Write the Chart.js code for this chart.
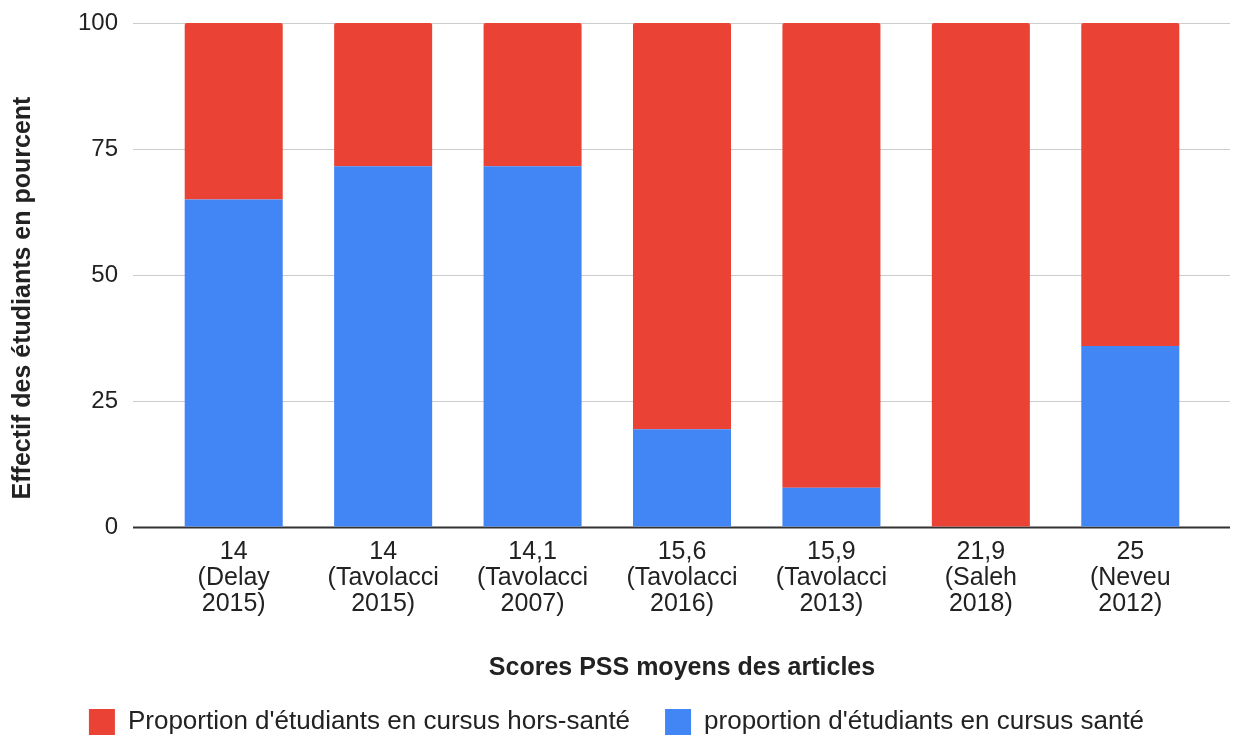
<!DOCTYPE html>
<html>
<head>
<meta charset="utf-8">
<script src="https://cdn.jsdelivr.net/npm/chart.js@4"></script>
<style>
  html, body { margin: 0; padding: 0; background: #fff; }
  #wrap { width: 1234px; height: 738px; }
</style>
</head>
<body>
<div id="wrap"><canvas id="chart" width="1234" height="738"></canvas></div>
<script>
const categories = [
  ['14', '(Delay', '2015)'],
  ['14', '(Tavolacci', '2015)'],
  ['14,1', '(Tavolacci', '2007)'],
  ['15,6', '(Tavolacci', '2016)'],
  ['15,9', '(Tavolacci', '2013)'],
  ['21,9', '(Saleh', '2018)'],
  ['25', '(Neveu', '2012)']
]
const santeValues = [65, 71.6, 71.6, 19.4, 7.8, 0, 35.9]
const horsSanteValues = [35, 28.4, 28.4, 80.6, 92.2, 100, 64.1]
const yTicks = [0, 25, 50, 75, 100]

const RED = '#ea4335'
const BLUE = '#4285f4'
const TEXT = '#222222'
const FONT = 'Liberation Sans, Arial, sans-serif'

// google-style gridlines that run a bit past the bars on both sides
const gridPlugin = {
  id: 'wideGrid',
  afterLayout(chart) {
    // nudge the legend a little to the right, like the original
    chart.legend.left += 28
    // y title sits a bit lower than the plot centre in the original
    chart.scales.y.bottom += 46
  },
  beforeDatasetsDraw(chart) {
    const ctx = chart.ctx
    const y = chart.scales.y
    ctx.save()
    yTicks.forEach(v => {
      const py = Math.round(y.getPixelForValue(v)) + 0.5
      ctx.beginPath()
      ctx.strokeStyle = v === 0 ? '#333333' : '#cccccc'
      ctx.lineWidth = v === 0 ? 2 : 1
      ctx.moveTo(133, py)
      ctx.lineTo(1230, py)
      ctx.stroke()
    })
    ctx.restore()
  }
}

const ctx = document.getElementById('chart').getContext('2d')
const chart = new Chart(ctx, {
  type: 'bar',
  data: {
    labels: categories,
    datasets: [{
      label: "proportion d'étudiants en cursus santé",
      data: santeValues,
      backgroundColor: BLUE,
      borderWidth: 0
    }, {
      label: "Proportion d'étudiants en cursus hors-santé",
      data: horsSanteValues,
      backgroundColor: RED,
      borderWidth: 0,
      borderRadius: 2
    }]
  },
  plugins: [gridPlugin],
  options: {
    responsive: false,
    animation: false,
    layout: { padding: { top: 23, right: 29, left: 0, bottom: -7 } },
    datasets: {
      bar: { barPercentage: 1, categoryPercentage: 0.656 }
    },
    plugins: {
      tooltip: { enabled: false },
      legend: {
        position: 'bottom',
        reverse: true,
        labels: {
          boxWidth: 26,
          boxHeight: 26,
          padding: 35,
          color: TEXT,
          font: { family: FONT, size: 26 }
        }
      }
    },
    scales: {
      x: {
        stacked: true,
        grid: { display: false, drawTicks: false },
        border: { display: false },
        ticks: {
          color: TEXT,
          padding: 12,
          maxRotation: 0,
          autoSkip: false,
          font: { family: FONT, size: 25, lineHeight: 1.04 }
        },
        title: {
          display: true,
          text: 'Scores PSS moyens des articles',
          color: TEXT,
          padding: { top: 0, bottom: -9 },
          font: { family: FONT, size: 25, weight: 'bold' }
        },
        afterFit(scale) { scale.height = 147 }
      },
      y: {
        stacked: true,
        min: 0,
        max: 100,
        // invisible tick marks give the gap between labels and bars
        grid: { drawOnChartArea: false, drawTicks: true, tickLength: 41, color: 'rgba(0,0,0,0)' },
        border: { display: false },
        ticks: {
          stepSize: 25,
          color: TEXT,
          padding: 0,
          font: { family: FONT, size: 24 }
        },
        title: {
          display: true,
          text: 'Effectif des étudiants en pourcent',
          color: TEXT,
          padding: { top: 8, bottom: 0 },
          font: { family: FONT, size: 25, weight: 'bold' }
        },
        afterFit(scale) { scale.width = 159 }
      }
    }
  }
})
</script>
</body>
</html>
